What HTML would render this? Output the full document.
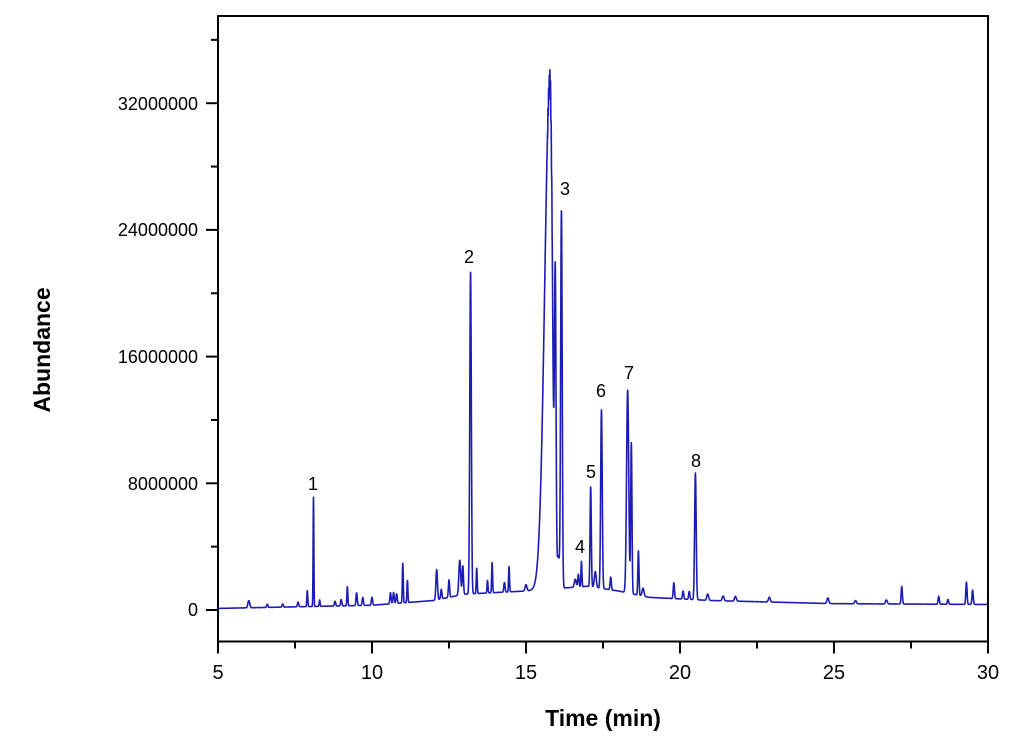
<!DOCTYPE html>
<html><head><meta charset="utf-8"><style>
body{margin:0;background:#fff;}
svg{display:block;font-family:"Liberation Sans",Arial,sans-serif;}
</style></head><body>
<svg id="s" width="1024" height="752" viewBox="0 0 1024 752">
<rect width="1024" height="752" fill="#fff"/>
<path id="trace" fill="none" stroke="#1c1cb4" stroke-width="1.6" stroke-linejoin="round"/>
<rect x="218" y="16" width="770" height="625.5" fill="none" stroke="#000" stroke-width="2"/>
<g id="ticks" stroke="#000" stroke-width="2"></g>
<g font-size="18" text-anchor="end" fill="#000">
<text x="198" y="616">0</text>
<text x="198" y="490">8000000</text>
<text x="198" y="363">16000000</text>
<text x="198" y="236">24000000</text>
<text x="198" y="110">32000000</text>
</g>
<g font-size="20" text-anchor="middle" fill="#000">
<text x="218" y="679">5</text>
<text x="372" y="679">10</text>
<text x="526" y="679">15</text>
<text x="680" y="679">20</text>
<text x="834" y="679">25</text>
<text x="988" y="679">30</text>
</g>
<g font-size="18" text-anchor="middle" fill="#000">
<text x="313" y="490">1</text>
<text x="469" y="263">2</text>
<text x="565" y="195">3</text>
<text x="580" y="553">4</text>
<text x="591" y="478">5</text>
<text x="601" y="397">6</text>
<text x="629" y="379">7</text>
<text x="696" y="467">8</text>
</g>
<text x="603" y="726" font-size="23" font-weight="bold" text-anchor="middle">Time (min)</text>
<text transform="translate(50,350) rotate(-90)" font-size="23" font-weight="bold" text-anchor="middle">Abundance</text>
</svg>
<script>
var X=function(t){return 218+(t-5)*30.8;};
var Y=function(m){return 610-m*126.7/8;};
var tk=document.getElementById('ticks'),h='';
for(var m=0;m<=36;m+=4){var y=Y(m),l=(m%8==0)?12:7;h+='<line x1="'+(218-l)+'" y1="'+y+'" x2="218" y2="'+y+'"/>';}
for(var t=5;t<=30;t+=2.5){var x=X(t),l=(t%5==0)?12:7;h+='<line x1="'+x+'" y1="641.5" x2="'+x+'" y2="'+(641.5+l)+'"/>';}
tk.innerHTML=h;
var bp=[[5,0.1],[10,0.3],[12,0.6],[13,1.0],[15,1.2],[16.3,1.4],[17,1.5],[18,1.2],[19,0.8],[21,0.6],[25,0.4],[30,0.35]];
function base(t){for(var i=0;i<bp.length-1;i++){if(t<=bp[i+1][0]){var a=bp[i],b=bp[i+1];return a[1]+(b[1]-a[1])*(t-a[0])/(b[0]-a[0]);}}return 0.35;}
var pk=[[6,0.45,0.03],[6.6,0.2,0.02],[7.1,0.2,0.02],[7.6,0.3,0.02],[7.9,1.0,0.015],[8.1,6.9,0.012],[8.3,0.4,0.015],[8.8,0.3,0.02],[9.0,0.4,0.02],[9.2,1.2,0.015],[9.5,0.8,0.02],[9.7,0.5,0.02],[10.0,0.5,0.02],
[10.6,0.7,0.02],[10.7,0.7,0.02],[10.8,0.6,0.02],[11.0,2.5,0.015],[11.15,1.4,0.015],[12.1,1.9,0.025],[12.25,0.6,0.02],[12.5,1.1,0.02],[12.85,2.2,0.03],[12.95,1.8,0.02],[13.2,20.3,0.025],[13.4,1.6,0.015],[13.75,0.8,0.015],[13.9,1.9,0.015],[14.3,0.6,0.02],[14.45,1.6,0.015],[15.0,0.4,0.03],
[15.85,1.5,0.02],[15.95,18,0.025],[16.15,23.8,0.025],[16.05,2,0.04],[16.6,0.5,0.03],[16.7,0.8,0.02],[16.8,1.6,0.015],[17.1,6.3,0.02],[17.25,1.0,0.03],[17.45,11.3,0.025],[17.75,0.8,0.02],[18.3,12.8,0.035],[18.42,9.5,0.02],[18.65,2.8,0.018],[18.8,0.5,0.03],
[19.8,1.0,0.02],[20.1,0.5,0.02],[20.3,0.5,0.02],[20.5,8.0,0.025],[20.9,0.4,0.03],[21.4,0.3,0.03],[21.8,0.3,0.03],[22.9,0.3,0.03],[24.8,0.35,0.03],[25.7,0.2,0.03],[26.7,0.25,0.03],[27.2,1.1,0.02],[28.4,0.5,0.02],[28.7,0.3,0.02],[29.3,1.4,0.02],[29.5,0.9,0.02]];
function main(t){var c=15.78,s=t<c?0.17:0.075;var z=(t-c)/s;return 32.2*Math.exp(-z*z/2);}
var d='';
for(var t=5;t<=30;t+=0.004){var v=base(t)+main(t);for(var i=0;i<pk.length;i++){var p=pk[i],z=(t-p[0])/p[2];if(z*z<50)v+=p[1]*Math.exp(-z*z/2);}
if(t>15.7&&t<15.85)v+=0.6*Math.sin(t*300);
d+=(d?'L':'M')+X(t).toFixed(2)+' '+Y(v).toFixed(2);}
document.getElementById('trace').setAttribute('d',d);
</script>
</body></html>
